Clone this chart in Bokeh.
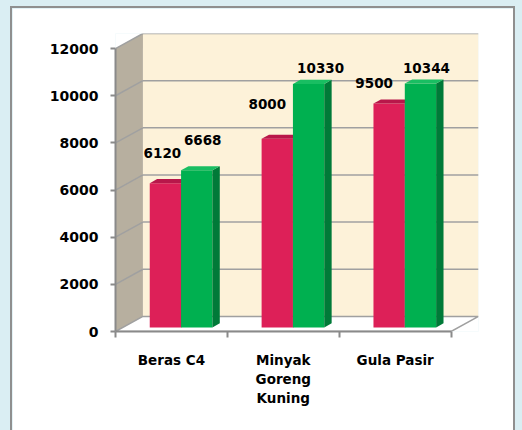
from bokeh.plotting import figure
from bokeh.models import FixedTicker
from bokeh.layouts import column
from bokeh.core.properties import value
from bokeh.embed import file_html
from bokeh.resources import INLINE

# ---- data ----
categories = ["Beras C4", "Minyak\nGoreng\nKuning", "Gula Pasir"]
series_red = [6120, 8000, 9500]
series_green = [6668, 10330, 10344]
y_ticks = [0, 2000, 4000, 6000, 8000, 10000, 12000]

# ---- 3D style constants ----
YMAX = 12000
DX, DY = 0.245, 640          # depth of the chart box (data units)
F0, BD = 0.27, 0.27          # bar front depth fraction, bar depth fraction
W, S = 0.28, 0.02            # bar width, bar shift
RED = ("#DD2058", "#B8174A", "#A3133F")     # front, top, side
GREEN = ("#00B050", "#19BE62", "#007A38")
label_dx_red = [-3, -10, -15]
label_dy_red = [-30, -35, -20]
label_dx_green = [6, 12, 6]
label_dy_green = [-30, -16, -16]

ncat = len(categories)
p = figure(width=501, height=422, x_range=(0, ncat + DX), y_range=(0, YMAX + DY),
           output_backend="svg", toolbar_location=None,
           min_border_left=103, min_border_right=35, min_border_top=25, min_border_bottom=99)
p.margin = (8, 0, 0, 12)
p.styles = {"outline": "2px solid #8f8f8f"}
p.background_fill_color = "white"
p.border_fill_color = "white"
p.outline_line_color = None
p.xgrid.visible = False
p.ygrid.visible = False

# back wall
p.quad(left=[DX], right=[ncat + DX], bottom=[DY], top=[YMAX + DY],
       fill_color="#FDF2D9", line_color=None)
# left wall
p.patch([0, 0, DX, DX], [0, YMAX, YMAX + DY, DY], fill_color="#B7AF9F", line_color=None)
# floor
p.patch([0, ncat, ncat + DX, DX], [0, 0, DY, DY], fill_color="white", line_color="#A0A0A0", line_width=1.5)

# gridlines on walls
for t in y_ticks[1:]:
    p.line([DX, ncat + DX], [t + DY, t + DY], line_color="#A0A0A0", line_width=1.5)
    p.line([0, DX], [t, t + DY], line_color="#A0A0A0", line_width=1.5)


def bar(xc_left, v, colors):
    x0 = xc_left + F0 * DX
    x1 = x0 + W
    y0 = F0 * DY
    y1 = v + F0 * DY
    ddx, ddy = BD * DX, BD * DY
    p.patch([x0, x1, x1, x0], [y0, y0, y1, y1], fill_color=colors[0], line_color=None)
    p.patch([x1, x1 + ddx, x1 + ddx, x1], [y0, y0 + ddy, y1 + ddy, y1], fill_color=colors[2], line_color=None)
    p.patch([x0, x1, x1 + ddx, x0 + ddx], [y1, y1, y1 + ddy, y1 + ddy], fill_color=colors[1], line_color=None)
    return (x0 + x1) / 2, y1


lab_x, lab_y, lab_t, lab_dx, lab_dy = [], [], [], [], []
for i in range(ncat):
    c = i + 0.5
    xr, yr = bar(c - W + S, series_red[i], RED)
    xg, yg = bar(c + S, series_green[i], GREEN)
    lab_x += [xr, xg]
    lab_y += [yr, yg]
    lab_t += [str(series_red[i]), str(series_green[i])]
    lab_dx += [label_dx_red[i], label_dx_green[i]]
    lab_dy += [label_dy_red[i], label_dy_green[i]]

p.text(x=lab_x, y=lab_y, text=lab_t, x_offset=lab_dx, y_offset=lab_dy,
       text_font=value("DejaVu Sans"), text_font_style="bold", text_font_size="13.5px",
       text_color="black", text_align="center", text_baseline="middle")

# axes
ya = p.yaxis[0]
ya.ticker = FixedTicker(ticks=y_ticks, minor_ticks=[])
ya.bounds = (0, YMAX)
ya.axis_line_color = "#8A8A8A"
ya.axis_line_width = 2
ya.major_tick_line_color = "#8A8A8A"
ya.major_tick_line_width = 2
ya.major_tick_out = 5
ya.major_tick_in = 0
ya.minor_tick_line_color = None
ya.major_label_standoff = 12
ya.major_label_text_font = "DejaVu Sans"
ya.major_label_text_font_style = "bold"
ya.major_label_text_font_size = "14px"
ya.major_label_text_color = "black"

xa = p.xaxis[0]
xa.ticker = FixedTicker(ticks=[i + 0.5 for i in range(ncat)], minor_ticks=list(range(ncat + 1)))
xa.bounds = (0, ncat)
xa.major_label_overrides = {i + 0.5: categories[i] for i in range(ncat)}
xa.axis_line_color = "#8A8A8A"
xa.axis_line_width = 2
xa.major_tick_line_color = None
xa.minor_tick_line_color = "#8A8A8A"
xa.minor_tick_line_width = 2
xa.minor_tick_out = 6
xa.minor_tick_in = 0
xa.major_label_standoff = 14
xa.major_label_text_font = "DejaVu Sans"
xa.major_label_text_font_style = "bold"
xa.major_label_text_font_size = "13.5px"
xa.major_label_text_color = "black"

layout = column(p, width=522, height=430, styles={"background-color": "#DAEEF3"})
open("out.html", "w").write(file_html(layout, INLINE))
